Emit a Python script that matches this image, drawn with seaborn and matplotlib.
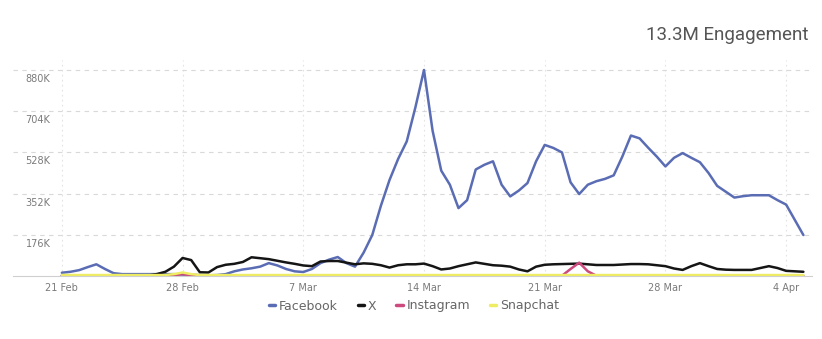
import matplotlib
matplotlib.use("Agg")
import matplotlib.pyplot as plt
import matplotlib.transforms as mtransforms
import seaborn as sns
import pandas as pd
import numpy as np
from matplotlib.lines import Line2D

sns.set_theme(style="white")
plt.rcParams['font.family'] = ['Roboto', 'DejaVu Sans']

# ---- data (thousands), sampled every 12 hours from 21 Feb ----
start_date = "2025-02-21"
facebook = [14, 18, 25, 38, 50, 30, 12, 8, 8, 8,
            8, 8, 8, 8, 6, 5, 4, 3, 4, 8,
            20, 28, 33, 40, 55, 45, 30, 20, 17, 30,
            55, 70, 81, 55, 40, 100, 175, 300, 410, 500,
            575, 720, 880, 620, 450, 390, 290, 324, 455, 475,
            490, 390, 340, 365, 397, 490, 560, 547, 528, 400,
            350, 390, 405, 415, 430, 510, 600, 588, 548, 510,
            468, 505, 525, 505, 486, 440, 385, 360, 335, 341,
            345, 345, 345, 324, 305, 240, 175]
x_series = [2, 2, 2, 2, 2, 2, 2, 2, 2, 2,
            2, 8, 18, 40, 77, 68, 16, 15, 38, 48,
            52, 60, 80, 76, 72, 65, 58, 52, 45, 42,
            62, 64, 64, 57, 50, 54, 52, 46, 36, 46,
            50, 50, 53, 42, 28, 32, 42, 50, 58, 52,
            46, 44, 40, 28, 20, 40, 48, 50, 51, 52,
            53, 50, 47, 47, 47, 49, 51, 51, 50, 46,
            42, 32, 26, 42, 55, 42, 30, 27, 26, 26,
            26, 34, 42, 34, 22, 20, 18]
instagram = [1] * 13 + [3, 8, 3] + [1] * 43 + [30, 57, 20] + [1] * 25
snapchat = [4] * 13 + [8, 15, 8] + [4] * 71

series_names = ["Facebook", "X", "Instagram", "Snapchat"]
series_colors = ["#5a6cb4", "#151515", "#cc4a7e", "#eeec62"]
y_ticks = [176000, 352000, 528000, 704000, 880000]
y_tick_labels = ["176K", "352K", "528K", "704K", "880K"]
x_tick_dates = ["2025-02-21", "2025-02-28", "2025-03-07", "2025-03-14",
                "2025-03-21", "2025-03-28", "2025-04-04"]
x_tick_labels = ["21 Feb", "28 Feb", "7 Mar", "14 Mar", "21 Mar", "28 Mar", "4 Apr"]
title_text = "13.3M Engagement"

dates = pd.date_range(start_date, periods=len(facebook), freq="12h")
frames = []
for name, vals in zip(series_names, [facebook, x_series, instagram, snapchat]):
    frames.append(pd.DataFrame({"date": dates, "value": np.array(vals) * 1000.0, "platform": name}))
df = pd.concat(frames, ignore_index=True)

fig = plt.figure(figsize=(8.22, 3.39), dpi=100)
fig.patch.set_facecolor("white")
ax = fig.add_axes([13 / 822, 63 / 339, 799 / 822, 216 / 339])

sns.lineplot(data=df, x="date", y="value", hue="platform", hue_order=series_names,
             palette=series_colors, linewidth=1.8, ax=ax, legend=False)

ax.set_ylim(0, 216 / 206 * 880000)
ax.set_xlim(pd.Timestamp(start_date) - pd.Timedelta(hours=68),
            pd.Timestamp(start_date) + pd.Timedelta(days=43.5))

ax.set_yticks(y_ticks)
ax.set_yticklabels(y_tick_labels)
ax.set_xticks(pd.to_datetime(x_tick_dates))
ax.set_xticklabels(x_tick_labels)

small_font = ['DejaVu Sans']
ax.tick_params(axis="y", length=0, pad=-9, labelsize=7, labelcolor="#7a7a7a")
offset = mtransforms.ScaledTranslation(0, -4 / 100, fig.dpi_scale_trans)
for lab in ax.get_yticklabels():
    lab.set_horizontalalignment("left")
    lab.set_verticalalignment("top")
    lab.set_family(small_font)
    lab.set_transform(lab.get_transform() + offset)
ax.tick_params(axis="x", length=0, pad=5, labelsize=7, labelcolor="#7a7a7a")
for lab in ax.get_xticklabels():
    lab.set_family(small_font)

ax.grid(axis="y", color="#d9d9d9", linestyle=(0, (4, 4)), linewidth=0.8)
ax.grid(axis="x", color="#e3e3e3", linestyle=(0, (1.5, 3)), linewidth=0.8)
for s in ["top", "left", "right"]:
    ax.spines[s].set_visible(False)
ax.spines["bottom"].set_color("#cfcfcf")
ax.spines["bottom"].set_linewidth(0.8)
ax.set_xlabel("")
ax.set_ylabel("")

handles = [Line2D([0], [0], color=c, linewidth=2.5) for c in series_colors]
fig.legend(handles, series_names, loc="center", bbox_to_anchor=(414 / 822, 1 - 306 / 339),
           ncol=4, frameon=False, prop={"family": small_font, "size": 9},
           handlelength=0.5, handletextpad=0.3, columnspacing=1.6, labelcolor="#666666")

fig.text(808 / 822, 1 - 35 / 339, title_text, ha="right", va="center",
         fontsize=13.5, color="#555555")

fig.savefig("out.png", dpi=100, facecolor="white")
